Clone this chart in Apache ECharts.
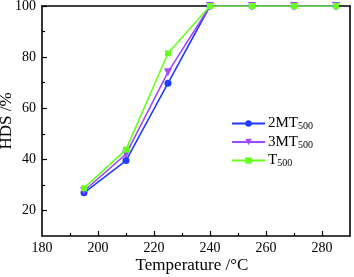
<!DOCTYPE html>
<html><head><meta charset="utf-8">
<script src="https://cdn.jsdelivr.net/npm/echarts@6/dist/echarts.min.js"></script>
<style>html,body{margin:0;padding:0;background:#fff}#c{width:354px;height:277px}</style>
</head><body><div id="c"></div>
<script>
const temperatures = [195, 210, 225, 240, 255, 270, 285];
const hds2MT500 = [26.9, 39.5, 69.8, 100, 100, 100, 100];
const hds3MT500 = [27.6, 42.0, 74.1, 100, 100, 100, 100];
const hdsT500 = [28.7, 43.8, 81.5, 100, 100, 100, 100];
const seriesNames = ['2MT500', '3MT500', 'T500'];
const xTickLabels = [180, 200, 220, 240, 260, 280];
const xMinorTicks = [190, 210, 230, 250, 270];
const yTickLabels = [20, 40, 60, 80, 100];
const yMinorTicks = [30, 50, 70, 90];

const font = 'Liberation Serif';
const colors = ['#1f3dff', '#a348ff', '#66ff1a'];
const symbols = ['circle', 'triangle', 'rect'];
const sizes = [7, 8, 6];
const rotates = [0, 180, 0];

function pair(a, b) { return a.map((v, i) => [v, b[i]]); }
const allData = [hds2MT500, hds3MT500, hdsT500];

const axisLine = { show: true, lineStyle: { color: '#000', width: 1.6 } };
const chart = echarts.init(document.getElementById('c'), null, { renderer: 'canvas' });
chart.setOption({
  animation: false,
  grid: { left: 42, right: 4, top: 6, bottom: 41, containLabel: false, outerBoundsMode: 'none' },
  xAxis: [
    { type: 'value', min: 180, max: 290, interval: 10, position: 'bottom',
      axisLine: axisLine,
      axisTick: { show: true, inside: true, length: 5, customValues: xTickLabels.slice(1), lineStyle: { color: '#000', width: 1.2 } },
      axisLabel: { customValues: xTickLabels, color: '#000', fontFamily: font, fontSize: 14, margin: 5 },
      splitLine: { show: false },
      name: 'Temperature /°C', nameLocation: 'middle', nameGap: 21, nameMoveOverlap: false,
      nameTextStyle: { color: '#000', fontFamily: font, fontSize: 17, padding: [0, 8, 0, 0] } },
    { type: 'value', min: 180, max: 290, interval: 10, position: 'bottom', gridIndex: 0,
      axisLine: { show: false },
      axisTick: { show: true, inside: true, length: 3, customValues: xMinorTicks, lineStyle: { color: '#000', width: 1.2 } },
      axisLabel: { show: false }, splitLine: { show: false } },
    { type: 'value', min: 180, max: 290, position: 'top',
      axisLine: axisLine, axisTick: { show: false }, axisLabel: { show: false }, splitLine: { show: false } }
  ],
  yAxis: [
    { type: 'value', min: 10, max: 100, interval: 10, position: 'left',
      axisLine: axisLine,
      axisTick: { show: true, inside: true, length: 5, customValues: yTickLabels, lineStyle: { color: '#000', width: 1.2 } },
      axisLabel: { customValues: yTickLabels, color: '#000', fontFamily: font, fontSize: 14, margin: 6 },
      splitLine: { show: false },
      name: 'HDS /%', nameLocation: 'middle', nameGap: 27, nameMoveOverlap: false,
      nameTextStyle: { color: '#000', fontFamily: font, fontSize: 17 } },
    { type: 'value', min: 10, max: 100, interval: 10, position: 'left',
      axisLine: { show: false },
      axisTick: { show: true, inside: true, length: 3, customValues: yMinorTicks, lineStyle: { color: '#000', width: 1.2 } },
      axisLabel: { show: false }, splitLine: { show: false } },
    { type: 'value', min: 10, max: 100, position: 'right',
      axisLine: axisLine, axisTick: { show: false }, axisLabel: { show: false }, splitLine: { show: false } }
  ],
  legend: {
    orient: 'vertical', left: 226, top: 111, itemWidth: 33, itemHeight: 8, itemGap: 3,
    data: seriesNames,
    formatter: function (n) {
      const m = n.match(/^(.*?)(500)$/);
      return '{a|' + m[1] + '}{b|' + m[2] + '}';
    },
    textStyle: { padding: [0, 0, 0, -2], rich: {
      a: { fontFamily: font, fontSize: 15, color: '#000' },
      b: { fontFamily: font, fontSize: 10, color: '#000', verticalAlign: 'bottom', padding: [6, 0, 0, 0] }
    } }
  },
  series: seriesNames.map((n, i) => ({
    name: n, type: 'line', xAxisIndex: 0, yAxisIndex: 0,
    data: pair(temperatures, allData[i]),
    symbol: symbols[i], symbolSize: sizes[i], symbolRotate: rotates[i], showSymbol: true,
    lineStyle: { color: colors[i], width: 1.6 },
    itemStyle: { color: colors[i] }, z: 3 + i
  }))
});
</script></body></html>
